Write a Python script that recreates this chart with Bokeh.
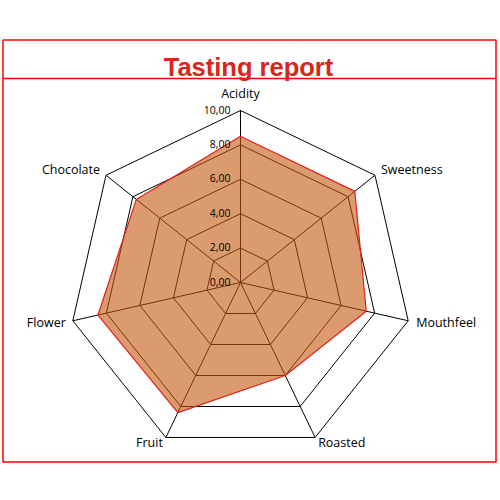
import math
from bokeh.plotting import figure
from bokeh.models import Range1d, Label
from bokeh.core.properties import value
from bokeh.embed import file_html
from bokeh.resources import INLINE

# ---- data ----
categories = ["Acidity", "Sweetness", "Mouthfeel", "Roasted", "Fruit", "Flower", "Chocolate"]
scores = [8.5, 8.5, 7.5, 6.0, 8.4, 8.5, 7.75]
tick_values = [0, 2, 4, 6, 8, 10]
tick_labels = ["0,00", "2,00", "4,00", "6,00", "8,00", "10,00"]
title_text = "Tasting report"

# ---- geometry (page pixels -> data units) ----
W, H = 498, 470
ORIGIN = 0                      # page position of the figure's top-left corner
CX, CY = 240.0, 282.0           # centre of the radar on the page
PX_PER_UNIT = 17.2
def X(px):
    return (px - CX) / PX_PER_UNIT
def Y(py):
    return (CY - py) / PX_PER_UNIT

p = figure(width=W, height=H, output_backend="svg", toolbar_location=None,
           x_range=Range1d(X(ORIGIN), X(ORIGIN + W)),
           y_range=Range1d(Y(ORIGIN + H), Y(ORIGIN)),
           min_border=0)
p.axis.visible = False
p.grid.visible = False
p.outline_line_color = None
p.background_fill_color = "white"
p.border_fill_color = "white"

n = len(categories)
angles = [math.pi / 2 - 2 * math.pi * i / n for i in range(n)]

def ring(r):
    xs = [r * math.cos(a) for a in angles]
    ys = [r * math.sin(a) for a in angles]
    return xs + [xs[0]], ys + [ys[0]]

rmax = tick_values[-1]

# rings
ring_xs, ring_ys = [], []
for t in tick_values[1:]:
    xs, ys = ring(t)
    ring_xs.append(xs)
    ring_ys.append(ys)
p.multi_line(ring_xs, ring_ys, line_color="black", line_width=1)

# spokes
spoke_xs = [[0, rmax * math.cos(a)] for a in angles]
spoke_ys = [[0, rmax * math.sin(a)] for a in angles]
p.multi_line(spoke_xs, spoke_ys, line_color="black", line_width=1)

# data polygon
dx = [s * math.cos(a) for s, a in zip(scores, angles)]
dy = [s * math.sin(a) for s, a in zip(scores, angles)]
p.patch(dx, dy, fill_color="#C5580D", fill_alpha=0.6,
        line_color="#E0201B", line_width=1.2)

# tick labels
p.text(x=[0] * len(tick_values), y=tick_values, text=tick_labels,
       text_align="right", text_baseline="middle", x_offset=-10, y_offset=-1,
       text_font=value("Open Sans"), text_font_size="10.5px", text_color="black")

# category labels
offsets = {
    "Acidity": (0, -17, "center"),
    "Sweetness": (6, -6, "left"),
    "Mouthfeel": (8, 2, "left"),
    "Roasted": (3, 5, "left"),
    "Fruit": (-3, 5, "right"),
    "Flower": (-7, 2, "right"),
    "Chocolate": (-6, -6, "right"),
}
for cat, a in zip(categories, angles):
    xo, yo, al = offsets[cat]
    p.text(x=[rmax * math.cos(a)], y=[rmax * math.sin(a)], text=[cat],
           x_offset=xo, y_offset=yo, text_align=al, text_baseline="middle",
           text_font=value("Open Sans"), text_font_size="12.5px", text_color="black")

# frame
frame_l, frame_r, frame_t, frame_b, sep = 2.5, 495.5, 39.5, 461.5, 78
p.multi_line(
    [[X(frame_l), X(frame_r), X(frame_r), X(frame_l), X(frame_l)], [X(frame_l), X(frame_r)]],
    [[Y(frame_t), Y(frame_t), Y(frame_b), Y(frame_b), Y(frame_t)], [Y(sep), Y(sep)]],
    line_color="#FF0000", line_width=1.5)

# title
p.add_layout(Label(x=X(248), y=Y(66), text=title_text, text_align="center",
                   text_baseline="alphabetic", text_font="Liberation Sans",
                   text_font_style="bold", text_font_size="25.5px",
                   text_color="#D9261C"))

open("out.html", "w").write(file_html(p, INLINE))
